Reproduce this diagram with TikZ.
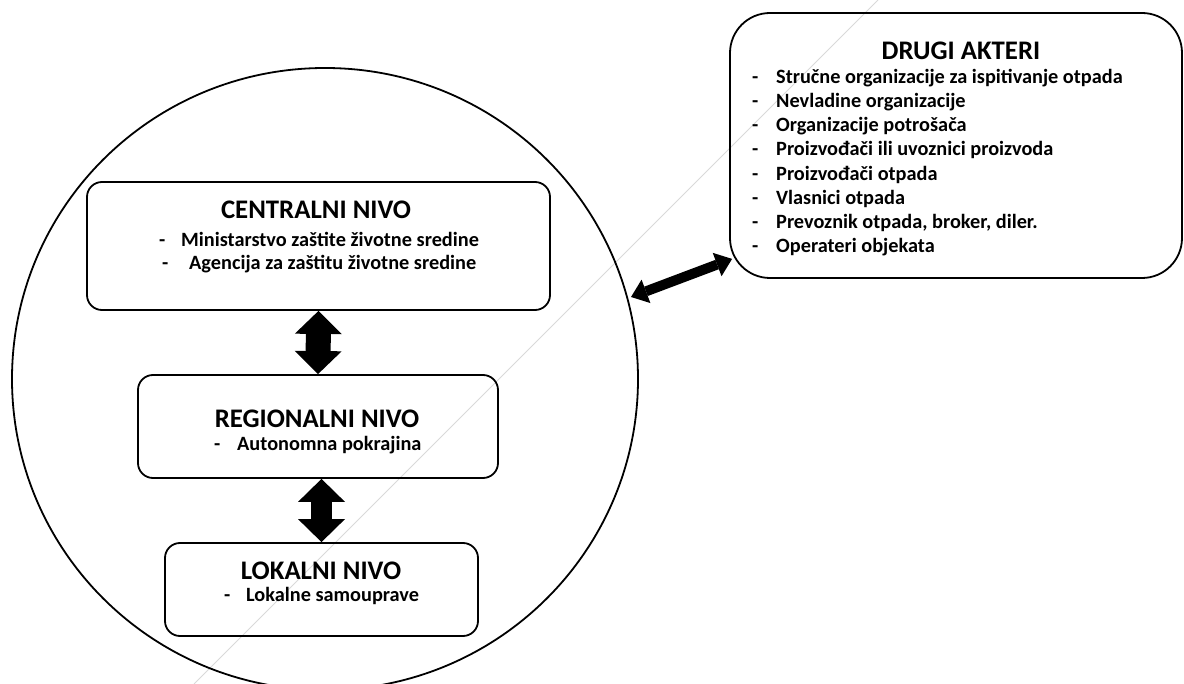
\documentclass[tikz,border=0pt]{standalone}
\usepackage{fontspec}
\setmainfont{Carlito}
\usetikzlibrary{arrows.meta,shapes.geometric,calc}
\tikzset{
  lvlbox/.style={draw=black, line width=1.8pt, rounded corners=15pt, inner sep=0pt},
  ttl/.style={font=\fontsize{26.8}{32}\selectfont\bfseries, inner sep=0pt},
  itm/.style={font=\fontsize{20.3}{24.2}\selectfont\bfseries, inner sep=0pt, anchor=mid west},
  vblock/.style={line width=#1, black, {Triangle[width=47pt,length=23pt,line width=0pt]}-{Triangle[width=47pt,length=23pt,line width=0pt]}},
  dblock/.style={line width=10pt, black, {Triangle[width=25pt,length=16pt,line width=0pt]}-{Triangle[width=25pt,length=16pt,line width=0pt]}}
}
\begin{document}
\begin{tikzpicture}[x=1pt,y=-1pt]
\useasboundingbox (0,0) rectangle (1184,684);
\clip (0,0) rectangle (1184,684);
\fill[white] (0,0) rectangle (1184,684);

% faint diagonal line
\coordinate (g1) at (878,0);
\coordinate (g2) at (194,684);
\draw[gray!30, line width=0.8pt] (g1) -- (g2);

% big circle
\node[draw=black, ellipse, line width=1.8pt, minimum width=626pt, minimum height=622pt, inner sep=0pt] (circ) at (325,379) {};

% level boxes
\node[lvlbox, minimum width=463pt, minimum height=128pt] (central) at (318.5,246) {};
\node[lvlbox, minimum width=360pt, minimum height=103pt] (regional) at (318,426.5) {};
\node[lvlbox, minimum width=313pt, minimum height=93pt] (local) at (321.5,589.5) {};

% texts in level boxes
\node[ttl] (ct) at (316,210) {CENTRALNI NIVO};
\node[itm] (c1) at (159,244) {\makebox[22pt][l]{-}Ministarstvo zaštite životne sredine};
\node[itm] (c2) at (162,267) {\makebox[27pt][l]{-}Agencija za zaštitu životne sredine};

\node[ttl] (rt) at (317,419) {REGIONALNI NIVO};
\node[itm] (r1) at (214,448) {\makebox[23pt][l]{-}Autonomna pokrajina};

\node[ttl] (lt) at (321,571) {LOKALNI NIVO};
\node[itm] (l1) at (224,599) {\makebox[22pt][l]{-}Lokalne samouprave};

% other actors box
\node[lvlbox, rounded corners=40pt, minimum width=452pt, minimum height=265pt] (drugi) at (956,145.5) {};
\node[ttl] (dt) at (961,51) {DRUGI AKTERI};
\foreach \t [count=\i] in {Stručne organizacije za ispitivanje otpada,
  Nevladine organizacije, Organizacije potrošača,
  Proizvođači ili uvoznici proizvoda, Proizvođači otpada, Vlasnici otpada,
  {Prevoznik otpada, broker, diler.}, Operateri objekata}
  \node[itm] (d\i) at (752,{81+24.2*(\i-1)}) {\makebox[24pt][l]{-}\t};

% block arrows
\draw[vblock=25pt] (central.south) -- (regional.north);
\draw[vblock=21pt] (local.north |- regional.south) -- (local.north);

% diagonal arrow
\coordinate (a1) at (631,297);
\coordinate (a2) at ($(drugi.south west)+(3,-20)$);
\draw[dblock] (a1) -- (a2);
\end{tikzpicture}
\end{document}
